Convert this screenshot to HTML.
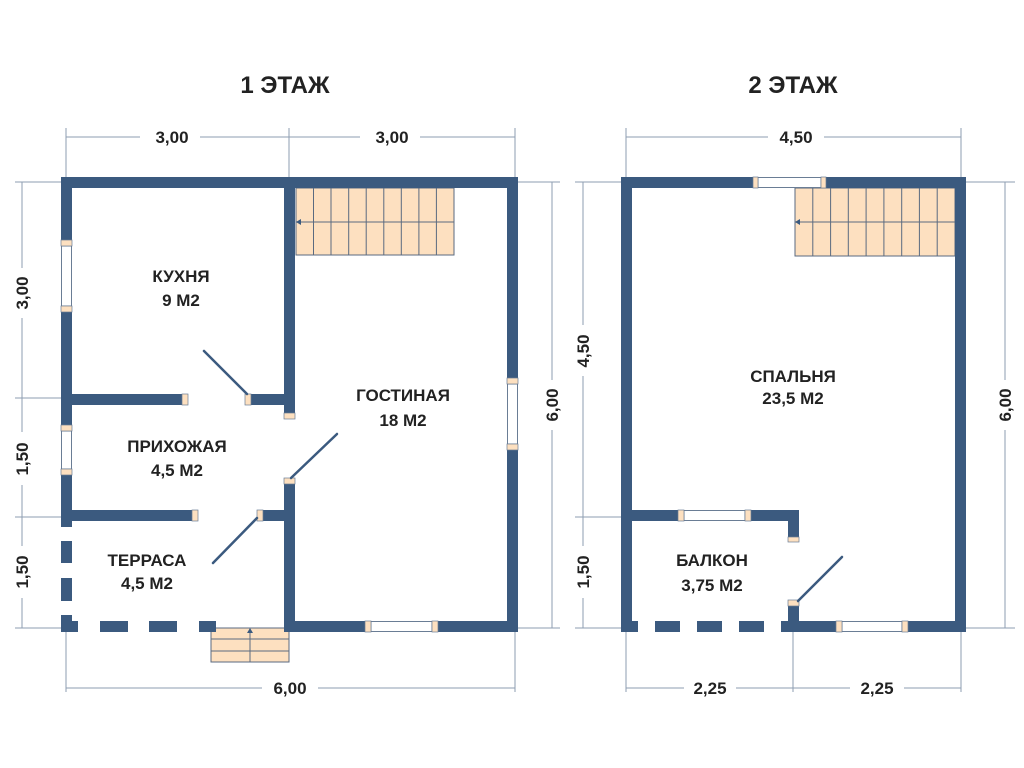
<!DOCTYPE html>
<html><head><meta charset="utf-8"><style>
html,body{margin:0;padding:0;background:#fff;}
svg{display:block;}
text{font-family:"Liberation Sans","DejaVu Sans",sans-serif;font-weight:bold;fill:#222;}
</style></head><body>
<svg width="1024" height="768" viewBox="0 0 1024 768" xmlns="http://www.w3.org/2000/svg">
<defs>
<g id="dummy"></g>
</defs>
<!-- titles -->
<text x="285" y="93" font-size="24" text-anchor="middle">1 ЭТАЖ</text>
<text x="793" y="93" font-size="24" text-anchor="middle">2 ЭТАЖ</text>

<!-- dimension lines -->
<g stroke="#8e9db2" stroke-width="1" fill="none">
<!-- floor1 top -->
<line x1="66" y1="137" x2="140" y2="137"/><line x1="200" y1="137" x2="360" y2="137"/><line x1="420" y1="137" x2="515" y2="137"/>
<line x1="66" y1="128" x2="66" y2="177"/><line x1="289" y1="128" x2="289" y2="177"/><line x1="515" y1="128" x2="515" y2="177"/>
<!-- floor1 left -->
<line x1="22" y1="182" x2="22" y2="268"/><line x1="22" y1="318" x2="22" y2="432"/><line x1="22" y1="485" x2="22" y2="546"/><line x1="22" y1="598" x2="22" y2="628"/>
<line x1="15" y1="182" x2="61" y2="182"/><line x1="15" y1="398" x2="61" y2="398"/><line x1="15" y1="517" x2="61" y2="517"/><line x1="15" y1="628" x2="61" y2="628"/>
<!-- floor1 right -->
<line x1="552" y1="182" x2="552" y2="380"/><line x1="552" y1="430" x2="552" y2="628"/>
<line x1="518" y1="182" x2="560" y2="182"/><line x1="518" y1="628" x2="560" y2="628"/>
<!-- floor1 bottom -->
<line x1="66" y1="688" x2="262" y2="688"/><line x1="318" y1="688" x2="515" y2="688"/>
<line x1="66" y1="632" x2="66" y2="692"/><line x1="515" y1="632" x2="515" y2="692"/>
<!-- floor2 top -->
<line x1="626" y1="137" x2="768" y2="137"/><line x1="824" y1="137" x2="961" y2="137"/>
<line x1="626" y1="128" x2="626" y2="177"/><line x1="961" y1="128" x2="961" y2="177"/>
<!-- floor2 left -->
<line x1="583" y1="182" x2="583" y2="325"/><line x1="583" y1="376" x2="583" y2="546"/><line x1="583" y1="598" x2="583" y2="628"/>
<line x1="575" y1="182" x2="621" y2="182"/><line x1="575" y1="517" x2="621" y2="517"/><line x1="575" y1="628" x2="621" y2="628"/>
<!-- floor2 right -->
<line x1="1005" y1="182" x2="1005" y2="380"/><line x1="1005" y1="430" x2="1005" y2="628"/>
<line x1="966" y1="182" x2="1015" y2="182"/><line x1="966" y1="628" x2="1015" y2="628"/>
<!-- floor2 bottom -->
<line x1="626" y1="688" x2="684" y2="688"/><line x1="736" y1="688" x2="850" y2="688"/><line x1="904" y1="688" x2="961" y2="688"/>
<line x1="626" y1="632" x2="626" y2="692"/><line x1="793" y1="632" x2="793" y2="692"/><line x1="961" y1="632" x2="961" y2="692"/>
</g>
<g font-size="17">
<text x="172" y="143" text-anchor="middle">3,00</text>
<text x="392" y="143" text-anchor="middle">3,00</text>
<text x="290" y="694" text-anchor="middle">6,00</text>
<text x="796" y="143" text-anchor="middle">4,50</text>
<text x="710" y="694" text-anchor="middle">2,25</text>
<text x="877" y="694" text-anchor="middle">2,25</text>
<text transform="translate(28,293) rotate(-90)" text-anchor="middle">3,00</text>
<text transform="translate(28,459) rotate(-90)" text-anchor="middle">1,50</text>
<text transform="translate(28,572) rotate(-90)" text-anchor="middle">1,50</text>
<text transform="translate(558,405) rotate(-90)" text-anchor="middle">6,00</text>
<text transform="translate(589,351) rotate(-90)" text-anchor="middle">4,50</text>
<text transform="translate(589,572) rotate(-90)" text-anchor="middle">1,50</text>
<text transform="translate(1011,405) rotate(-90)" text-anchor="middle">6,00</text>
</g>

<!-- stairs -->
<g fill="#fde0c0" stroke="#5a6a80" stroke-width="1">
<rect x="296" y="188" width="158" height="67"/>
<rect x="795" y="188" width="160" height="68"/>
<rect x="211" y="628" width="78" height="34"/>
</g>
<g stroke="#5a6a80" stroke-width="1">
<line x1="296" y1="222" x2="454" y2="222"/>
<line x1="313.5" y1="188" x2="313.5" y2="255"/><line x1="331" y1="188" x2="331" y2="255"/><line x1="348.7" y1="188" x2="348.7" y2="255"/><line x1="366.2" y1="188" x2="366.2" y2="255"/><line x1="383.8" y1="188" x2="383.8" y2="255"/><line x1="401.3" y1="188" x2="401.3" y2="255"/><line x1="418.9" y1="188" x2="418.9" y2="255"/><line x1="436.4" y1="188" x2="436.4" y2="255"/>
<line x1="795" y1="222" x2="955" y2="222"/>
<line x1="812.8" y1="188" x2="812.8" y2="256"/><line x1="830.6" y1="188" x2="830.6" y2="256"/><line x1="848.3" y1="188" x2="848.3" y2="256"/><line x1="866.1" y1="188" x2="866.1" y2="256"/><line x1="883.9" y1="188" x2="883.9" y2="256"/><line x1="901.7" y1="188" x2="901.7" y2="256"/><line x1="919.4" y1="188" x2="919.4" y2="256"/><line x1="937.2" y1="188" x2="937.2" y2="256"/>
<line x1="211" y1="639" x2="289" y2="639"/><line x1="211" y1="651" x2="289" y2="651"/><line x1="250" y1="632" x2="250" y2="662"/>
</g>
<g fill="#3b5a7f">
<polygon points="296,222 301,219 301,225"/>
<polygon points="795,222 800,219 800,225"/>
<polygon points="250,628 247,633 253,633"/>
</g>

<!-- walls -->
<g fill="#3b5a7f">
<!-- floor 1 -->
<rect x="61" y="177" width="457" height="11"/>
<rect x="61" y="177" width="11" height="350"/>
<rect x="507" y="177" width="11" height="455"/>
<rect x="284" y="177" width="11" height="242"/>
<rect x="284" y="478" width="11" height="154"/>
<rect x="284" y="621" width="234" height="11"/>
<rect x="61" y="394" width="127" height="11"/>
<rect x="245" y="394" width="50" height="11"/>
<rect x="61" y="510" width="137" height="11"/>
<rect x="257" y="510" width="38" height="11"/>
<rect x="61" y="541" width="11" height="22"/>
<rect x="61" y="578" width="11" height="23"/>
<rect x="61" y="615" width="11" height="17"/>
<rect x="61" y="621" width="17" height="11"/>
<rect x="100" y="621" width="28" height="11"/>
<rect x="149" y="621" width="28" height="11"/>
<rect x="199" y="621" width="17" height="11"/>
<!-- floor 2 -->
<rect x="621" y="177" width="345" height="11"/>
<rect x="621" y="177" width="11" height="455"/>
<rect x="955" y="177" width="11" height="455"/>
<rect x="621" y="510" width="178" height="11"/>
<rect x="788" y="510" width="11" height="31"/>
<rect x="788" y="600" width="11" height="32"/>
<rect x="788" y="621" width="178" height="11"/>
<rect x="621" y="621" width="17" height="11"/>
<rect x="655" y="621" width="25" height="11"/>
<rect x="697" y="621" width="25" height="11"/>
<rect x="739" y="621" width="25" height="11"/>
<rect x="781" y="621" width="18" height="11"/>
</g>

<!-- windows (white) -->
<g fill="#fff" stroke="#6a7d95" stroke-width="1">
<rect x="61.5" y="246" width="10" height="60"/>
<rect x="61.5" y="431" width="10" height="38"/>
<rect x="507.5" y="384" width="10" height="60"/>
<rect x="371" y="621.5" width="61" height="10"/>
<rect x="758" y="177.5" width="63" height="10"/>
<rect x="684" y="510.5" width="61" height="10"/>
<rect x="842" y="621.5" width="60" height="10"/>
</g>
<!-- jambs -->
<g fill="#fde0c0" stroke="#6a7d95" stroke-width="0.7">
<rect x="61" y="240" width="11" height="6"/><rect x="61" y="306" width="11" height="6"/>
<rect x="61" y="425" width="11" height="6"/><rect x="61" y="469" width="11" height="6"/>
<rect x="507" y="378" width="11" height="6"/><rect x="507" y="444" width="11" height="6"/>
<rect x="365" y="621" width="6" height="11"/><rect x="432" y="621" width="6" height="11"/>
<rect x="182" y="394" width="6" height="11"/><rect x="245" y="394" width="6" height="11"/>
<rect x="284" y="413" width="11" height="6"/><rect x="284" y="478" width="11" height="6"/>
<rect x="192" y="510" width="6" height="11"/><rect x="257" y="510" width="6" height="11"/>
<rect x="753" y="177" width="5" height="11"/><rect x="821" y="177" width="5" height="11"/>
<rect x="678" y="510" width="6" height="11"/><rect x="745" y="510" width="6" height="11"/>
<rect x="788" y="537" width="11" height="5"/><rect x="788" y="600" width="11" height="6"/>
<rect x="836" y="621" width="6" height="11"/><rect x="902" y="621" width="6" height="11"/>
</g>
<!-- doors -->
<g stroke="#3b5a7f" stroke-width="2.5" stroke-linecap="round">
<line x1="204" y1="351" x2="247" y2="394"/>
<line x1="291" y1="478" x2="337" y2="434"/>
<line x1="213" y1="563" x2="257" y2="518"/>
<line x1="798" y1="601" x2="842" y2="557"/>
</g>

<!-- room labels -->
<g font-size="17" text-anchor="middle">
<text x="181" y="282">КУХНЯ</text><text x="181" y="306">9 М2</text>
<text x="403" y="401">ГОСТИНАЯ</text><text x="403" y="426">18 М2</text>
<text x="177" y="452">ПРИХОЖАЯ</text><text x="177" y="476">4,5 М2</text>
<text x="147" y="566">ТЕРРАСА</text><text x="147" y="589">4,5 М2</text>
<text x="793" y="382">СПАЛЬНЯ</text><text x="793" y="404">23,5 М2</text>
<text x="712" y="566">БАЛКОН</text><text x="712" y="591">3,75 М2</text>
</g>
</svg>
</body></html>
